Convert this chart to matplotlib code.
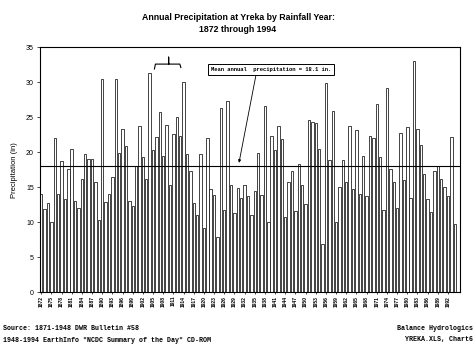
import matplotlib
matplotlib.use("Agg")
import matplotlib.pyplot as plt
import numpy as np

first_year = 1872
values = [
    14.1, 11.9, 12.7, 10.0, 22.0, 14.0, 18.7, 13.3, 17.6, 20.5,   # 1872-1881
    13.1, 12.1, 16.2, 19.7, 19.0, 19.1, 15.7, 10.3, 30.5, 12.9,   # 1882-1891
    14.1, 16.5, 30.5, 19.9, 23.4, 20.9, 13.1, 12.4, 18.1, 23.7,   # 1892-1901
    19.4, 16.2, 31.4, 20.4, 22.2, 25.7, 19.5, 23.9, 15.4, 22.6,   # 1902-1911
    25.0, 22.3, 30.0, 19.8, 17.3, 12.7, 11.0, 19.8, 9.2, 22.1,    # 1912-1921
    14.7, 13.9, 7.9, 26.3, 11.8, 27.4, 15.4, 11.3, 14.9, 13.5,    # 1922-1931
    15.4, 13.8, 11.0, 14.5, 19.9, 13.9, 26.6, 10.1, 22.3, 20.3,   # 1932-1941
    23.7, 21.9, 10.8, 15.7, 17.4, 11.6, 18.3, 15.3, 12.6, 24.6,   # 1942-1951
    24.4, 24.2, 20.5, 6.9, 29.9, 18.9, 25.9, 10.1, 15.0, 18.9,    # 1952-1961
    15.7, 23.8, 14.7, 23.2, 14.1, 19.5, 13.7, 22.4, 22.1, 26.9,   # 1962-1971
    19.3, 11.7, 29.2, 17.6, 15.7, 12.0, 22.7, 16.0, 23.6, 13.5,   # 1972-1981
    33.0, 23.4, 21.1, 16.9, 13.4, 11.5, 17.4, 18.1, 16.2, 15.0,   # 1982-1991
    13.7, 22.2, 9.8,                                              # 1992-1994
]
years = list(range(first_year, first_year + len(values)))
tick_years = years[::3]
mean_value = 18.1
y_ticks = [0, 5, 10, 15, 20, 25, 30, 35]

title_lines = ["Annual Precipitation at Yreka by Rainfall Year:", "1872 through 1994"]
y_label = "Precipitation (in)"
mean_text = "Mean annual  precipitation = 18.1 in."
footer_left = ["Source: 1871-1948 DWR Bulletin #58",
               '1948-1994 EarthInfo "NCDC Summary of the Day" CD-ROM']
footer_right = ["Balance Hydrologics", "YREKA.XLS, Chart6"]

W, H = 476, 356
fig = plt.figure(figsize=(W / 100, H / 100), dpi=100)
fig.patch.set_facecolor("white")
ax = fig.add_axes([39.5 / W, 1 - 292.3 / H, (459.5 - 39.5) / W, (292.3 - 47.3) / H])

ax.bar(years, values, width=0.72, color="white", edgecolor="#111111", linewidth=0.55)
ax.axhline(mean_value, color="black", linewidth=0.8)

ax.set_xlim(first_year - 0.5, first_year - 0.5 + 123.9)
ax.set_ylim(0, 35)
ax.set_yticks(y_ticks)
ax.set_yticklabels([str(t) for t in y_ticks], fontsize=5, family="Liberation Sans")
ax.set_xticks(tick_years)
ax.set_xticklabels([str(y) for y in tick_years], rotation=90, fontsize=3.6,
                   family="Liberation Sans", fontweight="bold")
ax.tick_params(axis="x", length=1.5, width=0.5, pad=1)
ax.tick_params(axis="y", length=2, width=0.5, pad=2)
for s in ax.spines.values():
    s.set_linewidth(0.8)

ax.set_ylabel(y_label, fontsize=5.5, family="Liberation Sans", labelpad=6)

# mean annotation box with arrow
ax.annotate(mean_text, xy=(1871.5 + (239 - 39.5) / 3.39, mean_value + 0.4),
            xytext=(1871.5 + (271 - 39.5) / 3.39, (292.3 - 69.5) / 7),
            fontsize=4.0, family="Liberation Mono", fontweight="bold",
            ha="center", va="center",
            bbox=dict(boxstyle="square,pad=0.6", fc="white", ec="black", lw=0.7),
            arrowprops=dict(arrowstyle="-|>", color="black", lw=0.6,
                            mutation_scale=4, shrinkA=0, shrinkB=0,
                            relpos=(0.38, 0.0)))

# bracket above 1905-1912
bx0, bx1, bxc = 1905.4, 1913.2, 1909.6
by = 32.6
ax.plot([bx0, bx0 + 0.3, bxc - 0.2, bxc, bxc, bxc, bxc + 0.2, bx1 - 0.3, bx1],
        [by - 0.7, by, by, by, by + 1.0, by, by, by, by - 0.5],
        color="black", lw=0.8, clip_on=False)

fig.text(238 / W, 1 - 18 / H, title_lines[0], ha="center", va="center",
         fontsize=6.3, family="Liberation Sans", fontweight="bold")
fig.text(238 / W, 1 - 29 / H, title_lines[1], ha="center", va="center",
         fontsize=6.3, family="Liberation Sans", fontweight="bold")

fig.text(3 / W, 1 - 329 / H, footer_left[0], ha="left", va="center",
         fontsize=4.8, family="Liberation Mono", fontweight="bold")
fig.text(3 / W, 1 - 340 / H, footer_left[1], ha="left", va="center",
         fontsize=4.8, family="Liberation Mono", fontweight="bold")
fig.text(473 / W, 1 - 329 / H, footer_right[0], ha="right", va="center",
         fontsize=4.8, family="Liberation Mono", fontweight="bold")
fig.text(473 / W, 1 - 340 / H, footer_right[1], ha="right", va="center",
         fontsize=4.8, family="Liberation Mono", fontweight="bold")

fig.savefig("out.png", dpi=100, facecolor="white")
